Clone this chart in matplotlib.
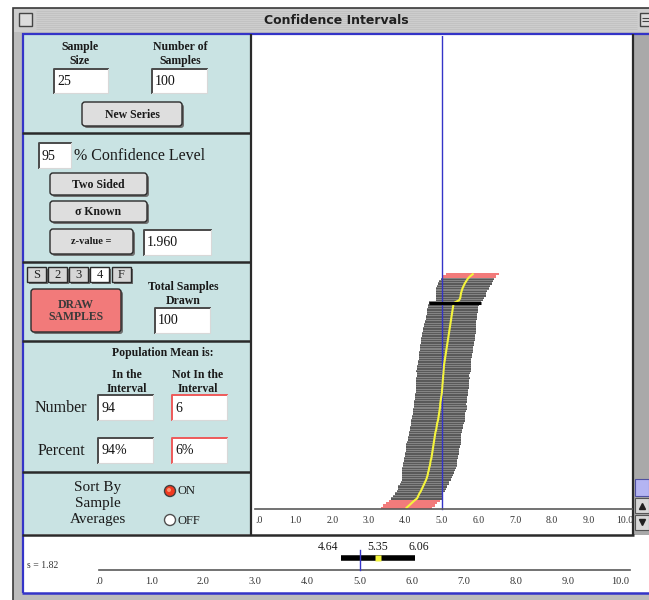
import matplotlib.pyplot as plt
from matplotlib.patches import Rectangle, FancyBboxPatch, Circle

# sorted sample averages of the 100 intervals (bottom row -> top row)
means = [4.03, 4.10, 4.17, 4.24, 4.32, 4.35, 4.38, 4.42, 4.45, 4.48,
         4.51, 4.54, 4.57, 4.59, 4.61, 4.62, 4.64, 4.65, 4.67, 4.68,
         4.69, 4.71, 4.72, 4.73, 4.74, 4.75, 4.76, 4.77, 4.78, 4.79,
         4.80, 4.81, 4.82, 4.84, 4.85, 4.86, 4.87, 4.89, 4.90, 4.91,
         4.92, 4.93, 4.94, 4.95, 4.95, 4.96, 4.97, 4.98, 4.99, 5.00,
         5.00, 5.01, 5.01, 5.02, 5.02, 5.03, 5.03, 5.04, 5.04, 5.05,
         5.05, 5.06, 5.07, 5.08, 5.09, 5.10, 5.11, 5.12, 5.13, 5.14,
         5.15, 5.16, 5.17, 5.18, 5.19, 5.20, 5.21, 5.22, 5.23, 5.24,
         5.25, 5.26, 5.27, 5.28, 5.29, 5.30, 5.31, 5.35, 5.47, 5.50,
         5.51, 5.52, 5.54, 5.56, 5.59, 5.62, 5.66, 5.70, 5.76, 5.84]
# half widths of the intervals (1.96 * s / sqrt(25))
half_widths = [0.70, 0.70, 0.69, 0.70, 0.70, 0.68, 0.66, 0.65, 0.66, 0.67,
               0.67, 0.66, 0.67, 0.69, 0.70, 0.71, 0.72, 0.73, 0.73, 0.74,
               0.73, 0.74, 0.73, 0.74, 0.73, 0.72, 0.73, 0.74, 0.73, 0.72,
               0.73, 0.72, 0.73, 0.72, 0.73, 0.72, 0.73, 0.73, 0.72, 0.73,
               0.72, 0.72, 0.73, 0.72, 0.71, 0.72, 0.72, 0.71, 0.72, 0.71,
               0.72, 0.73, 0.72, 0.73, 0.72, 0.73, 0.72, 0.73, 0.74, 0.73,
               0.73, 0.72, 0.73, 0.72, 0.73, 0.72, 0.73, 0.72, 0.73, 0.73,
               0.73, 0.73, 0.74, 0.73, 0.73, 0.72, 0.72, 0.71, 0.71, 0.70,
               0.70, 0.70, 0.69, 0.69, 0.69, 0.68, 0.69, 0.71, 0.64, 0.66,
               0.68, 0.69, 0.70, 0.72, 0.73, 0.74, 0.73, 0.72, 0.72, 0.72]
pop_mean = 5.0
latest_row = 87
latest_lower, latest_mean, latest_upper = 4.64, 5.35, 6.06
latest_s = 1.82
tick_vals = [0, 1, 2, 3, 4, 5, 6, 7, 8, 9, 10]
tick_labels = [".0", "1.0", "2.0", "3.0", "4.0", "5.0", "6.0", "7.0", "8.0", "9.0", "10.0"]

PANEL = "#c9e3e3"
BLUE = "#3434c8"
SERIF = ["Liberation Serif", "DejaVu Serif"]
W, H = 649, 600

fig = plt.figure(figsize=(W / 100, H / 100), dpi=100)
ui = fig.add_axes([0, 0, 1, 1])
ui.set_xlim(0, W)
ui.set_ylim(H, 0)
ui.axis("off")


def fbox(x0, y0, x1, y1):
    return [x0 / W, 1 - y1 / H, (x1 - x0) / W, (y1 - y0) / H]


def rect(x0, y0, x1, y1, **kw):
    ui.add_patch(Rectangle((x0, y0), x1 - x0, y1 - y0, **kw))


def hline(y, x0, x1, color="#2a2a2a", lw=1.6):
    ui.plot([x0, x1], [y, y], color=color, lw=lw, solid_capstyle="butt")


def vline(x, y0, y1, color="#2a2a2a", lw=1.6):
    ui.plot([x, x], [y0, y1], color=color, lw=lw, solid_capstyle="butt")


def txt(x, y, s, size=9, bold=False, ha="center", ls=1.0, **kw):
    ui.text(x, y, s, ha=ha, va="center", fontsize=size, family=SERIF,
            fontweight="bold" if bold else "normal", color=kw.pop("color", "#1a1a1a"),
            linespacing=ls, **kw)


def button(x0, y0, x1, y1, label, fill="#dedede", size=8.5, color="#1a1a1a"):
    ui.add_patch(FancyBboxPatch((x0 + 2, y0 + 2), x1 - x0, y1 - y0,
                                boxstyle="round,pad=0,rounding_size=3", fc="#707070", ec="none"))
    ui.add_patch(FancyBboxPatch((x0, y0), x1 - x0, y1 - y0,
                                boxstyle="round,pad=0,rounding_size=3", fc=fill, ec="#2a2a2a", lw=1))
    txt((x0 + x1) / 2, (y0 + y1) / 2 + 0.5, label, size=size, bold=True, color=color, ls=1.1)


def field(x0, y0, x1, y1, s, edge="#4a4a4a", size=10):
    rect(x0, y0, x1, y1, fc="white", ec="none")
    ui.plot([x0, x0, x1], [y1, y0, y0], color=edge, lw=1.4)
    ui.plot([x0, x1, x1], [y1, y1, y0], color="#d8d8d8", lw=0.8)
    txt(x0 + 3, (y0 + y1) / 2 + 0.5, s, size=size, ha="left", color="#111111")


# window frame and title bar
rect(13, 8, W + 2, H + 2, fc="#bcbcbc", ec="#3a3a3a", lw=1.2)
rect(14, 9, W, 32, fc="#cdcdcd", ec="none")
for y in range(11, 31, 2):
    hline(y, 36, W - 12, color="#c2c2c2", lw=0.7)
rect(256, 10, 416, 31, fc="#cdcdcd", ec="none")
ui.text(336, 20.5, "Confidence Intervals", ha="center", va="center", fontsize=9,
        fontweight="bold", family=["DejaVu Sans"], color="#202020")
rect(19, 13, 32, 26, fc="#dcdcdc", ec="#444444", lw=1)
rect(640, 13, W + 3, 26, fc="#dcdcdc", ec="#444444", lw=1)
hline(18, 642, W, color="#444444", lw=0.8)
hline(21, 642, W, color="#444444", lw=0.8)

# content area
rect(22, 33, W + 2, 593, fc="white", ec="none")
rect(22, 34, 251, 534, fc=PANEL, ec="none")
hline(33.5, 22, W, color=BLUE, lw=1.6)
vline(22.5, 33, 593, color=BLUE, lw=1.6)
hline(593, 22, W, color=BLUE, lw=1.8)
vline(251, 34, 535, lw=1.6)
vline(633, 34, 535, lw=1.6)
hline(534.5, 22, 634, lw=1.8)

# scroll bar
rect(634, 34, W, 535, fc="#a9a9a9", ec="none")
rect(635, 479, W, 496, fc="#b4b4f2", ec="#5050a0", lw=0.8)
rect(635, 498, W, 513, fc="#d8d8d8", ec="#555555", lw=0.8)
rect(635, 515, W, 530, fc="#d8d8d8", ec="#555555", lw=0.8)
ui.plot([642], [506], marker="^", ms=4, color="#202020")
ui.plot([642], [522], marker="v", ms=4, color="#202020")

# panel section separators
for y in (133, 262, 340.5, 471.5):
    hline(y, 22, 251, lw=1.8)

# section 1: sample sizes
txt(80, 54, "Sample\nSize", size=8.5, bold=True, ls=1.15)
txt(180, 54, "Number of\nSamples", size=8.5, bold=True, ls=1.15)
field(54, 69, 108, 93, "25")
field(152, 69, 207, 93, "100")
button(82, 102, 182, 126, "New Series")

# section 2: confidence level
field(39, 143, 71, 168, "95")
txt(74, 156, "% Confidence Level", size=11.5, ha="left")
button(50, 173, 147, 195, "Two Sided")
button(50, 201, 147, 222, "\u03c3 Known")
button(50, 229, 133, 254, "z-value =", size=7.5)
field(144, 230, 211, 255, "1.960")

# section 3: draw samples
for lab, x0 in zip(["S", "2", "3", "4", "F"], [27, 48, 69, 90, 112]):
    fill = "white" if lab == "4" else "#d6d6d6"
    rect(x0 + 1.5, 268.5, x0 + 20.5, 283.5, fc="#6a6a6a", ec="none")
    rect(x0, 267, x0 + 19, 282, fc=fill, ec="#2a2a2a", lw=1)
    txt(x0 + 9.5, 275, lab, size=9, color="#222222")
button(31, 289, 121, 332, "DRAW\nSAMPLES", fill="#f27a7a", size=8.5, color="#3a3a3a")
txt(183, 294, "Total Samples\nDrawn", size=8.5, bold=True, ls=1.15)
field(155, 308, 210, 333, "100")

# section 4: population mean
txt(163, 353, "Population Mean is:", size=8.5, bold=True)
txt(127, 382, "In the\nInterval", size=8.5, bold=True, ls=1.15)
txt(198, 382, "Not In the\nInterval", size=8.5, bold=True, ls=1.15)
txt(61, 408, "Number", size=11.5)
txt(61, 451, "Percent", size=11.5)
field(98, 395, 153, 420, "94")
field(172, 395, 227, 420, "6", edge="#ee5a5a")
field(98, 438, 153, 463, "94%")
field(172, 438, 227, 463, "6%", edge="#ee5a5a")

# section 5: sort option
txt(98, 504, "Sort By\nSample\nAverages", size=11, ls=1.3)
ui.add_patch(Circle((170, 491), 5.5, fc="#f03a20", ec="#404040", lw=1))
ui.add_patch(Circle((169, 490), 2, fc="#ff9070", ec="none"))
ui.add_patch(Circle((170, 520), 5.5, fc="white", ec="#505050", lw=1))
txt(177, 491.5, "ON", size=9, ha="left")
txt(177, 521.5, "OFF", size=9, ha="left")

# confidence interval chart
ROW = 2.36
ax = fig.add_axes(fbox(252, 36, 633, 534))
ax.set_xlim((252 - 259) / 36.6, (633 - 259) / 36.6)
ax.set_ylim(-(534 - 509) / ROW, (509 - 36) / ROW)
ax.axis("off")

rows = [i + 0.5 for i in range(len(means))]
lows = [m - h for m, h in zip(means, half_widths)]
highs = [m + h for m, h in zip(means, half_widths)]
for r, lo, hi in zip(rows, lows, highs):
    if lo > pop_mean or hi < pop_mean:
        ax.barh(r, hi - lo, left=lo, height=1.0, color="#f27b7b", lw=0)
    else:
        ax.barh(r, hi - lo, left=lo, height=1.0, color="#848484", lw=0)
        ax.barh(r - 0.2, hi - lo, left=lo, height=0.55, color="#595959", lw=0)

ax.plot([pop_mean, pop_mean], [0, ax.get_ylim()[1]], color=BLUE, lw=1.0)
ax.plot(means, rows, color="#f4f43c", lw=1.5)
ax.plot([lows[latest_row], highs[latest_row]], [rows[latest_row]] * 2,
        color="black", lw=2.2, solid_capstyle="butt")
ax.plot([-0.1, 10.2], [0, 0], color="#5a5a5a", lw=1.2)
for t, lab in zip(tick_vals, tick_labels):
    ax.text(t, -4.9, lab, ha="center", va="center", fontsize=7, family=SERIF,
            color="#333333", clip_on=True)

# latest sample strip
sx = fig.add_axes(fbox(23, 535, 633, 592))
sx.set_xlim((23 - 99) / 52.1, (633 - 99) / 52.1)
sx.set_ylim(592, 535)
sx.axis("off")
sx.plot([0, 10.2], [570, 570], color="#5a5a5a", lw=1.2)
for t, lab in zip(tick_vals, tick_labels):
    sx.text(t, 582, lab, ha="center", va="center", fontsize=7.5, family=SERIF, color="#333333")
sx.plot([latest_lower, latest_upper], [558, 558], color="black", lw=4, solid_capstyle="butt")
sx.plot([pop_mean, pop_mean], [550, 570], color=BLUE, lw=1.0)
sx.plot([latest_mean], [558], marker="s", ms=4.5, color="#f4f43c", mec="none")
sx.text(latest_lower - 0.05, 547, f"{latest_lower:.2f}", ha="right", va="center",
        fontsize=8.5, family=SERIF, color="#1a1a1a")
sx.text(latest_mean, 547, f"{latest_mean:.2f}", ha="center", va="center",
        fontsize=8.5, family=SERIF, color="#1a1a1a")
sx.text(latest_upper - 0.12, 547, f"{latest_upper:.2f}", ha="left", va="center",
        fontsize=8.5, family=SERIF, color="#1a1a1a")
txt(27, 565, f"s = {latest_s:.2f}", size=7, ha="left", color="#333333")

fig.savefig("out.png", dpi=100)
plt.close(fig)
